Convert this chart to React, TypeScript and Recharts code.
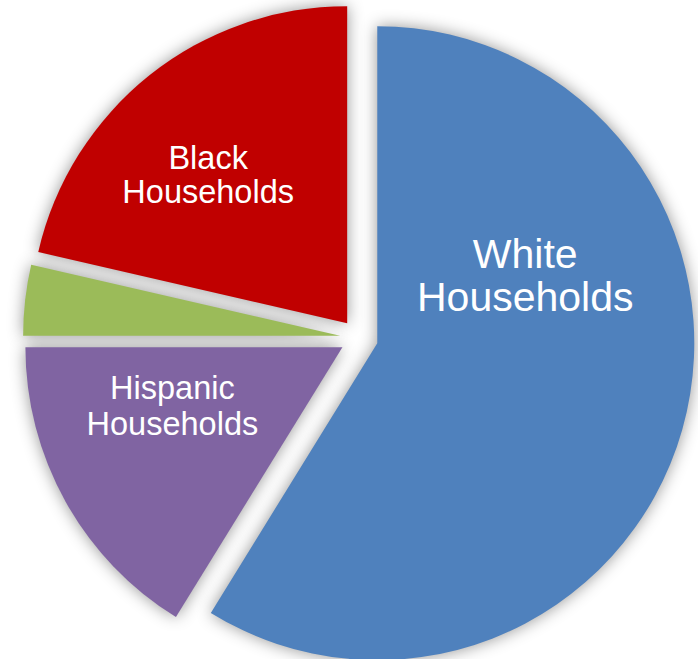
import React from 'react';
import { PieChart, Pie, Cell } from 'recharts';

// shares, clockwise from 12 o'clock
const names = ['White Households', 'Hispanic Households', 'Other Households', 'Black Households'];
const shares = [58.8, 16.2, 3.6, 21.4];
const colors = ['#4F81BD', '#8064A2', '#9BBB59', '#C00000'];

const data = names.map((name, i) => ({ name, value: shares[i] }));

const W = 698;
const H = 659;
const CX = 359;
const CY = 338;
const R = 317;
const EXPLODE = 19;

// label placement relative to each slice's own centre
const labelCfg: Record<string, { dx: number; lines: { text: string; dy: number }[]; size: number } | null> = {
  'White Households': { dx: 148, size: 41, lines: [{ text: 'White', dy: -75 }, { text: 'Households', dy: -32 }] },
  'Hispanic Households': { dx: -170, size: 32.5, lines: [{ text: 'Hispanic', dy: 52 }, { text: 'Households', dy: 88 }] },
  'Other Households': null,
  'Black Households': { dx: -139, size: 32.5, lines: [{ text: 'Black', dy: -154 }, { text: 'Households', dy: -120 }] },
};

const total = shares.reduce((a, b) => a + b, 0);
const centers = (() => {
  let start = 90;
  return shares.map((v) => {
    const span = (360 * v) / total;
    const mid = ((start - span / 2) * Math.PI) / 180;
    start -= span;
    return { x: CX + EXPLODE * Math.cos(mid), y: CY - EXPLODE * Math.sin(mid) };
  });
})();

const FONT = '"Liberation Sans", Arial, sans-serif';

export default function App() {
  const sliceLabel = (slice: number) => (props: any) => {
    if (props.index !== slice) return null;
    const cfg = labelCfg[names[slice]];
    if (!cfg) return null;
    const c = centers[slice];
    return (
      <text
        key={`lbl-${slice}`}
        x={c.x + cfg.dx}
        textAnchor="middle"
        fill="#fff"
        fontSize={cfg.size}
        fontFamily={FONT}
      >
        {cfg.lines.map((l) => (
          <tspan key={l.text} x={c.x + cfg.dx} y={c.y + l.dy}>
            {l.text}
          </tspan>
        ))}
      </text>
    );
  };

  return (
    <div style={{ position: 'absolute', left: 0, top: 0, background: '#fff' }}>
      <PieChart width={W} height={H} margin={{ top: 0, right: 0, bottom: 0, left: 0 }}>
        <defs>
          <filter id="glow" filterUnits="userSpaceOnUse" x={0} y={0} width={W} height={H}>
            <feGaussianBlur in="SourceAlpha" stdDeviation={8} result="blur" />
            <feFlood floodColor="#000" floodOpacity={0.42} />
            <feComposite in2="blur" operator="in" />
          </filter>
        </defs>
        {/* shadow pass */}
        {shares.map((_, s) => (
          <Pie
            key={`shadow-${s}`}
            data={data}
            dataKey="value"
            nameKey="name"
            cx={centers[s].x}
            cy={centers[s].y}
            outerRadius={R}
            startAngle={90}
            endAngle={-270}
            stroke="none"
            labelLine={false}
            isAnimationActive={false}
          >
            {data.map((d, i) => (
              <Cell key={d.name} fill={i === s ? '#000' : 'none'} filter={i === s ? 'url(#glow)' : undefined} />
            ))}
          </Pie>
        ))}
        {/* colour pass */}
        {shares.map((_, s) => (
          <Pie
            key={`slice-${s}`}
            data={data}
            dataKey="value"
            nameKey="name"
            cx={centers[s].x}
            cy={centers[s].y}
            outerRadius={R}
            startAngle={90}
            endAngle={-270}
            stroke="none"
            labelLine={false}
            label={sliceLabel(s)}
            isAnimationActive={false}
          >
            {data.map((d, i) => (
              <Cell key={d.name} fill={i === s ? colors[i] : 'none'} />
            ))}
          </Pie>
        ))}
      </PieChart>
    </div>
  );
}
